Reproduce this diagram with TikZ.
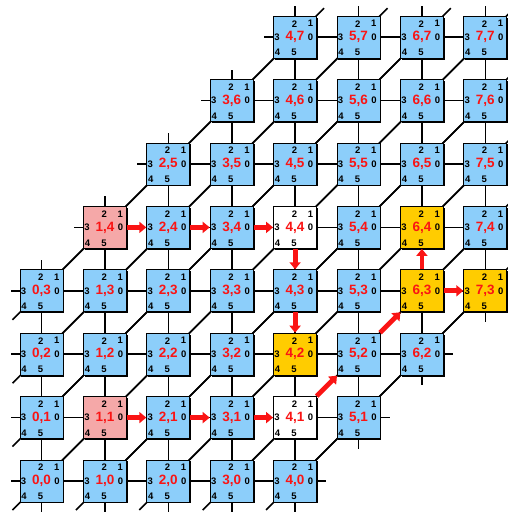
\documentclass[tikz,border=0pt]{standalone}
\usepackage{fontspec}
\setmainfont{Liberation Sans}
\usetikzlibrary{shadows,arrows.meta}
\definecolor{cblue}{RGB}{140,206,250}
\definecolor{cpink}{RGB}{245,168,168}
\definecolor{cgold}{RGB}{255,204,0}
\definecolor{cred}{RGB}{250,20,20}
\begin{document}
\begin{tikzpicture}[x=1pt,y=-1pt,
  box/.style={draw=black, line width=1pt, minimum width=43pt, minimum height=42pt, inner sep=0pt,
    font=\fontsize{13.5}{13.5}\bfseries\selectfont, text=cred,
    drop shadow={shadow xshift=1.3pt, shadow yshift=-1.3pt, opacity=1, fill=black}},
  digit/.style={inner sep=0pt, font=\fontsize{9.5}{9.5}\bfseries\selectfont, text=black},
  wire/.style={line width=1.6pt, black},
  route/.style={line width=4.8pt, cred, -{Triangle[length=7pt,width=11pt]}}
]
\useasboundingbox (0,0) rectangle (508,512);
% centres
\foreach \i in {0,...,7}{\foreach \j in {0,...,7}{
  \pgfmathtruncatemacro\ex{(((\i)-(\j))>-4)&&(((\i)-(\j))<5)}
  \ifnum\ex=1
    \coordinate (c-\i-\j) at (41.5+63.4*\i, 481-63.4*\j);
  \fi
}}
% wires and stubs
\foreach \i in {0,...,7}{\foreach \j in {0,...,7}{
  \pgfmathtruncatemacro\ex{(((\i)-(\j))>-4)&&(((\i)-(\j))<5)}
  \ifnum\ex=1
    \foreach \di/\dj/\sl in {1/0/31,1/1/29,0/1/31,-1/0/31,-1/-1/29,0/-1/31}{
      \pgfmathtruncatemacro\ni{\i+(\di)}
      \pgfmathtruncatemacro\nj{\j+(\dj)}
      \pgfmathtruncatemacro\nex{((\ni)>-1)&&((\ni)<8)&&((\nj)>-1)&&((\nj)<8)&&(((\ni)-(\nj))>-4)&&(((\ni)-(\nj))<5)}
      \ifnum\nex=1
        \draw[wire] (c-\i-\j) -- (c-\ni-\nj);
      \else
        \draw[wire] (c-\i-\j) -- ++({(\di)*\sl},{(\dj)*(-\sl)});
      \fi
    }
  \fi
}}
% boxes
\foreach \i in {0,...,7}{\foreach \j in {0,...,7}{
  \pgfmathtruncatemacro\ex{(((\i)-(\j))>-4)&&(((\i)-(\j))<5)}
  \ifnum\ex=1
    \pgfmathtruncatemacro\k{10*\i+\j}
    \def\fc{cblue}
    \ifnum\k=14 \def\fc{cpink}\fi
    \ifnum\k=11 \def\fc{cpink}\fi
    \ifnum\k=44 \def\fc{white}\fi
    \ifnum\k=41 \def\fc{white}\fi
    \ifnum\k=64 \def\fc{cgold}\fi
    \ifnum\k=63 \def\fc{cgold}\fi
    \ifnum\k=73 \def\fc{cgold}\fi
    \ifnum\k=42 \def\fc{cgold}\fi
    \node[box, fill=\fc] (n-\i-\j) at (c-\i-\j) {\i,\j};
    \node[digit] (p2-\i-\j) at ([shift={(-0.7,-13.5)}]c-\i-\j) {2};
    \node[digit] (p1-\i-\j) at ([shift={(15.3,-13.5)}]c-\i-\j) {1};
    \node[digit] (p3-\i-\j) at ([shift={(-18,0)}]c-\i-\j) {3};
    \node[digit] (p0-\i-\j) at ([shift={(15.5,0)}]c-\i-\j) {0};
    \node[digit] (p4-\i-\j) at ([shift={(-17.5,15.5)}]c-\i-\j) {4};
    \node[digit] (p5-\i-\j) at ([shift={(-1,15.5)}]c-\i-\j) {5};
  \fi
}}
% routes
\draw[route] (n-1-4) -- (n-2-4);
\draw[route] (n-2-4) -- (n-3-4);
\draw[route] (n-3-4) -- (n-4-4);
\draw[route] (n-4-4) -- (n-4-3);
\draw[route] (n-4-3) -- (n-4-2);
\draw[route] (n-1-1) -- (n-2-1);
\draw[route] (n-2-1) -- (n-3-1);
\draw[route] (n-3-1) -- (n-4-1);
\draw[route] (n-4-1) -- (n-5-2);
\draw[route] (n-5-2) -- (n-6-3);
\draw[route] (n-6-3) -- (n-6-4);
\draw[route] (n-6-3) -- (n-7-3);
\end{tikzpicture}
\end{document}
